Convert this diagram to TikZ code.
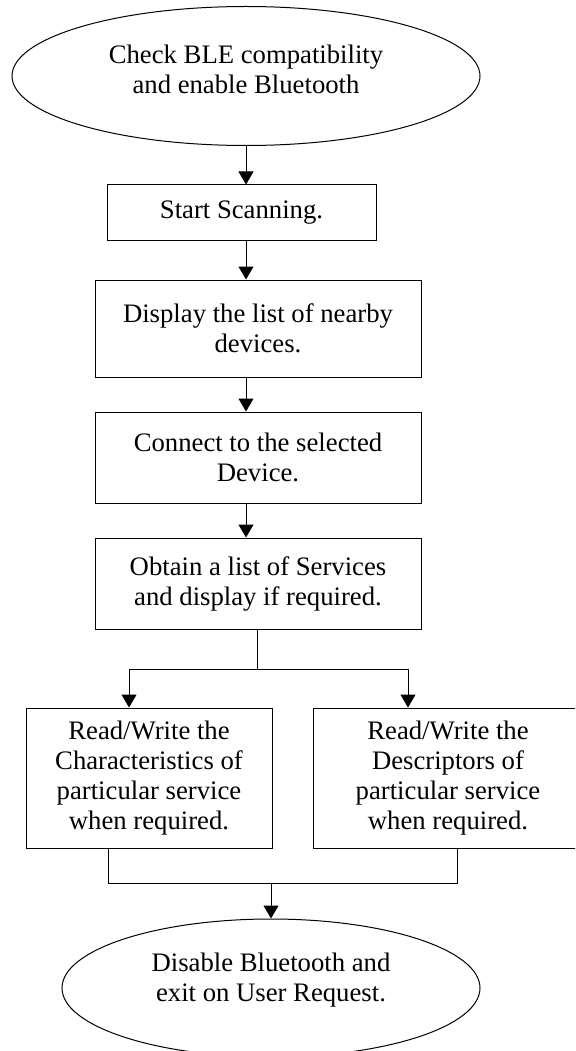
\documentclass[tikz,border=0pt]{standalone}
\usepackage{fontspec}
\setmainfont{Liberation Serif}
\usetikzlibrary{shapes.geometric,arrows.meta}
\begin{document}
\begin{tikzpicture}[x=1pt,y=-1pt,
  line width=1pt, draw=black,
  txt/.style={align=center,font=\fontsize{26.7}{30}\selectfont,inner sep=0pt},
  oval/.style={draw,ellipse,inner sep=0pt},
  stepbox/.style={draw,rectangle,inner sep=0pt,align=center,font=\fontsize{26.7}{30}\selectfont},
  arr/.style={-{Triangle[width=15pt,length=13pt]}}]
\useasboundingbox (0,0) rectangle (575,1051);
\clip (0,0) rectangle (575,1051);
% start ellipse
\node[oval,minimum width=468pt,minimum height=139pt] (e1) at (246,76) {};
\node[txt] (e1t) at (246,69) {Check BLE compatibility\\and enable Bluetooth};
% boxes
\node[stepbox,minimum width=269pt,minimum height=55pt] (b1) at (241.5,212.5) {Start Scanning.};
\node[stepbox,minimum width=326pt,minimum height=97pt] (b2) at (258,328.5) {Display the list of nearby\\devices.};
\node[stepbox,minimum width=326pt,minimum height=91pt] (b3) at (258,457.5) {Connect to the selected\\Device.};
\node[stepbox,minimum width=326pt,minimum height=91pt] (b4) at (258,583.5) {Obtain a list of Services\\and display if required.};
\node[stepbox,minimum width=246pt,minimum height=140pt] (b5) at (149,778) {Read/Write the\\Characteristics of\\particular service\\when required.};
\node[stepbox,minimum width=270pt,minimum height=140pt] (b6) at (448,778) {Read/Write the\\Descriptors of\\particular service\\when required.};
% end ellipse
\node[oval,minimum width=418pt,minimum height=138pt] (e2) at (271,988) {};
\node[txt] (e2t) at (271,980) {Disable Bluetooth and\\exit on User Request.};
% straight arrows
\draw[arr] (e1.south) -- (e1.south |- b1.north);
\draw[arr] (e1.south |- b1.south) -- (e1.south |- b2.north);
\draw[arr] (e1.south |- b2.south) -- (e1.south |- b3.north);
\draw[arr] (e1.south |- b3.south) -- (e1.south |- b4.north);
% branch
\coordinate (j1) at (257,669);
\coordinate (jl) at (129,669);
\coordinate (jr) at (408,669);
\draw (j1 |- b4.south) -- (j1);
\draw (jl) -- (jr);
\draw[arr] (jl) -- (jl |- b5.north);
\draw[arr] (jr) -- (jr |- b6.north);
% merge
\coordinate (ml) at (108,883);
\coordinate (mr) at (457,883);
\coordinate (mc) at (271,883);
\draw (ml |- b5.south) -- (ml) -- (mr) -- (mr |- b6.south);
\draw[arr] (mc) -- (e2.north);
\end{tikzpicture}
\end{document}
